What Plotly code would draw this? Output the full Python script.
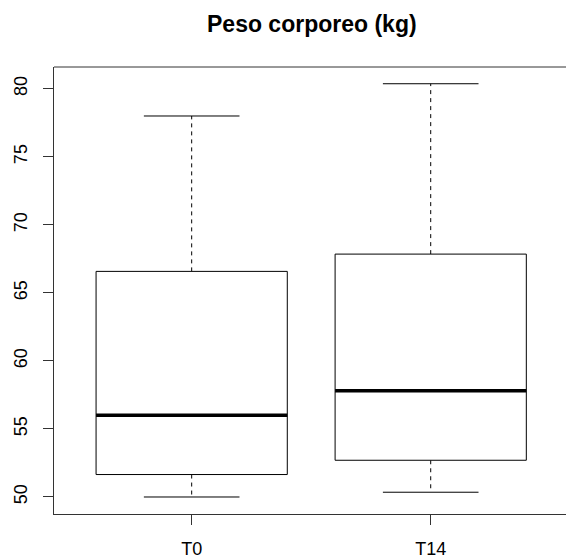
import plotly.graph_objects as go

# Data
labels = ["T0", "T14"]
lower_whisker = [50.0, 50.35]
q1 = [51.65, 52.7]
median = [56.0, 57.8]
q3 = [66.58, 67.85]
upper_whisker = [78.0, 80.37]

y_ticks = [50, 55, 60, 65, 70, 75, 80]

box_half = 0.4
cap_half = 0.2

fig = go.Figure()
for i, lab in enumerate(labels):
    x = i + 1
    # whiskers (dashed)
    fig.add_trace(go.Scatter(x=[x, x, None, x, x],
                             y=[q3[i], upper_whisker[i], None, q1[i], lower_whisker[i]],
                             mode="lines", line=dict(color="black", width=1, dash="4px,4px"),
                             hoverinfo="skip", showlegend=False))
    # caps
    fig.add_trace(go.Scatter(x=[x - cap_half, x + cap_half, None, x - cap_half, x + cap_half],
                             y=[upper_whisker[i], upper_whisker[i], None, lower_whisker[i], lower_whisker[i]],
                             mode="lines", line=dict(color="black", width=1),
                             hoverinfo="skip", showlegend=False))
    # box
    fig.add_trace(go.Scatter(x=[x - box_half, x + box_half, x + box_half, x - box_half, x - box_half],
                             y=[q1[i], q1[i], q3[i], q3[i], q1[i]],
                             mode="lines", line=dict(color="black", width=1),
                             fill="toself", fillcolor="white",
                             hoverinfo="skip", showlegend=False))
    # median
    fig.add_trace(go.Scatter(x=[x - box_half, x + box_half], y=[median[i], median[i]],
                             mode="lines", line=dict(color="black", width=3.5),
                             hoverinfo="skip", showlegend=False))

fig.update_layout(
    width=566, height=558,
    margin=dict(l=54, r=0, t=67, b=44),
    paper_bgcolor="white", plot_bgcolor="white",
    font=dict(family="Liberation Sans, Arial", size=18, color="black"),
    xaxis=dict(range=[0.424, 2.566], tickvals=[1, 2], ticktext=labels,
               showgrid=False, zeroline=False, showline=True, linecolor="#333", linewidth=1,
               ticks="outside", ticklen=10, tickcolor="#333", ticklabelstandoff=8),
    yaxis=dict(range=[48.75, 81.6], tickvals=y_ticks,
               showgrid=False, zeroline=False, showline=True, linecolor="#333", linewidth=1,
               ticks="outside", ticklen=10, tickcolor="#333", tickangle=-90, ticklabelstandoff=9),
    shapes=[dict(type="line", xref="paper", yref="paper", x0=0, x1=1, y0=1, y1=1,
                 line=dict(color="#333", width=1))],
    annotations=[dict(text="<b>Peso corporeo (kg)</b>", xref="paper", yref="paper",
                      x=0.503, y=1, yshift=43, xanchor="center", yanchor="middle",
                      showarrow=False, font=dict(size=23, family="Liberation Sans, Arial"))],
)

fig.write_html("out.html", config={"displayModeBar": False},
               post_script="document.body.style.margin='0';document.body.style.overflow='hidden';")
